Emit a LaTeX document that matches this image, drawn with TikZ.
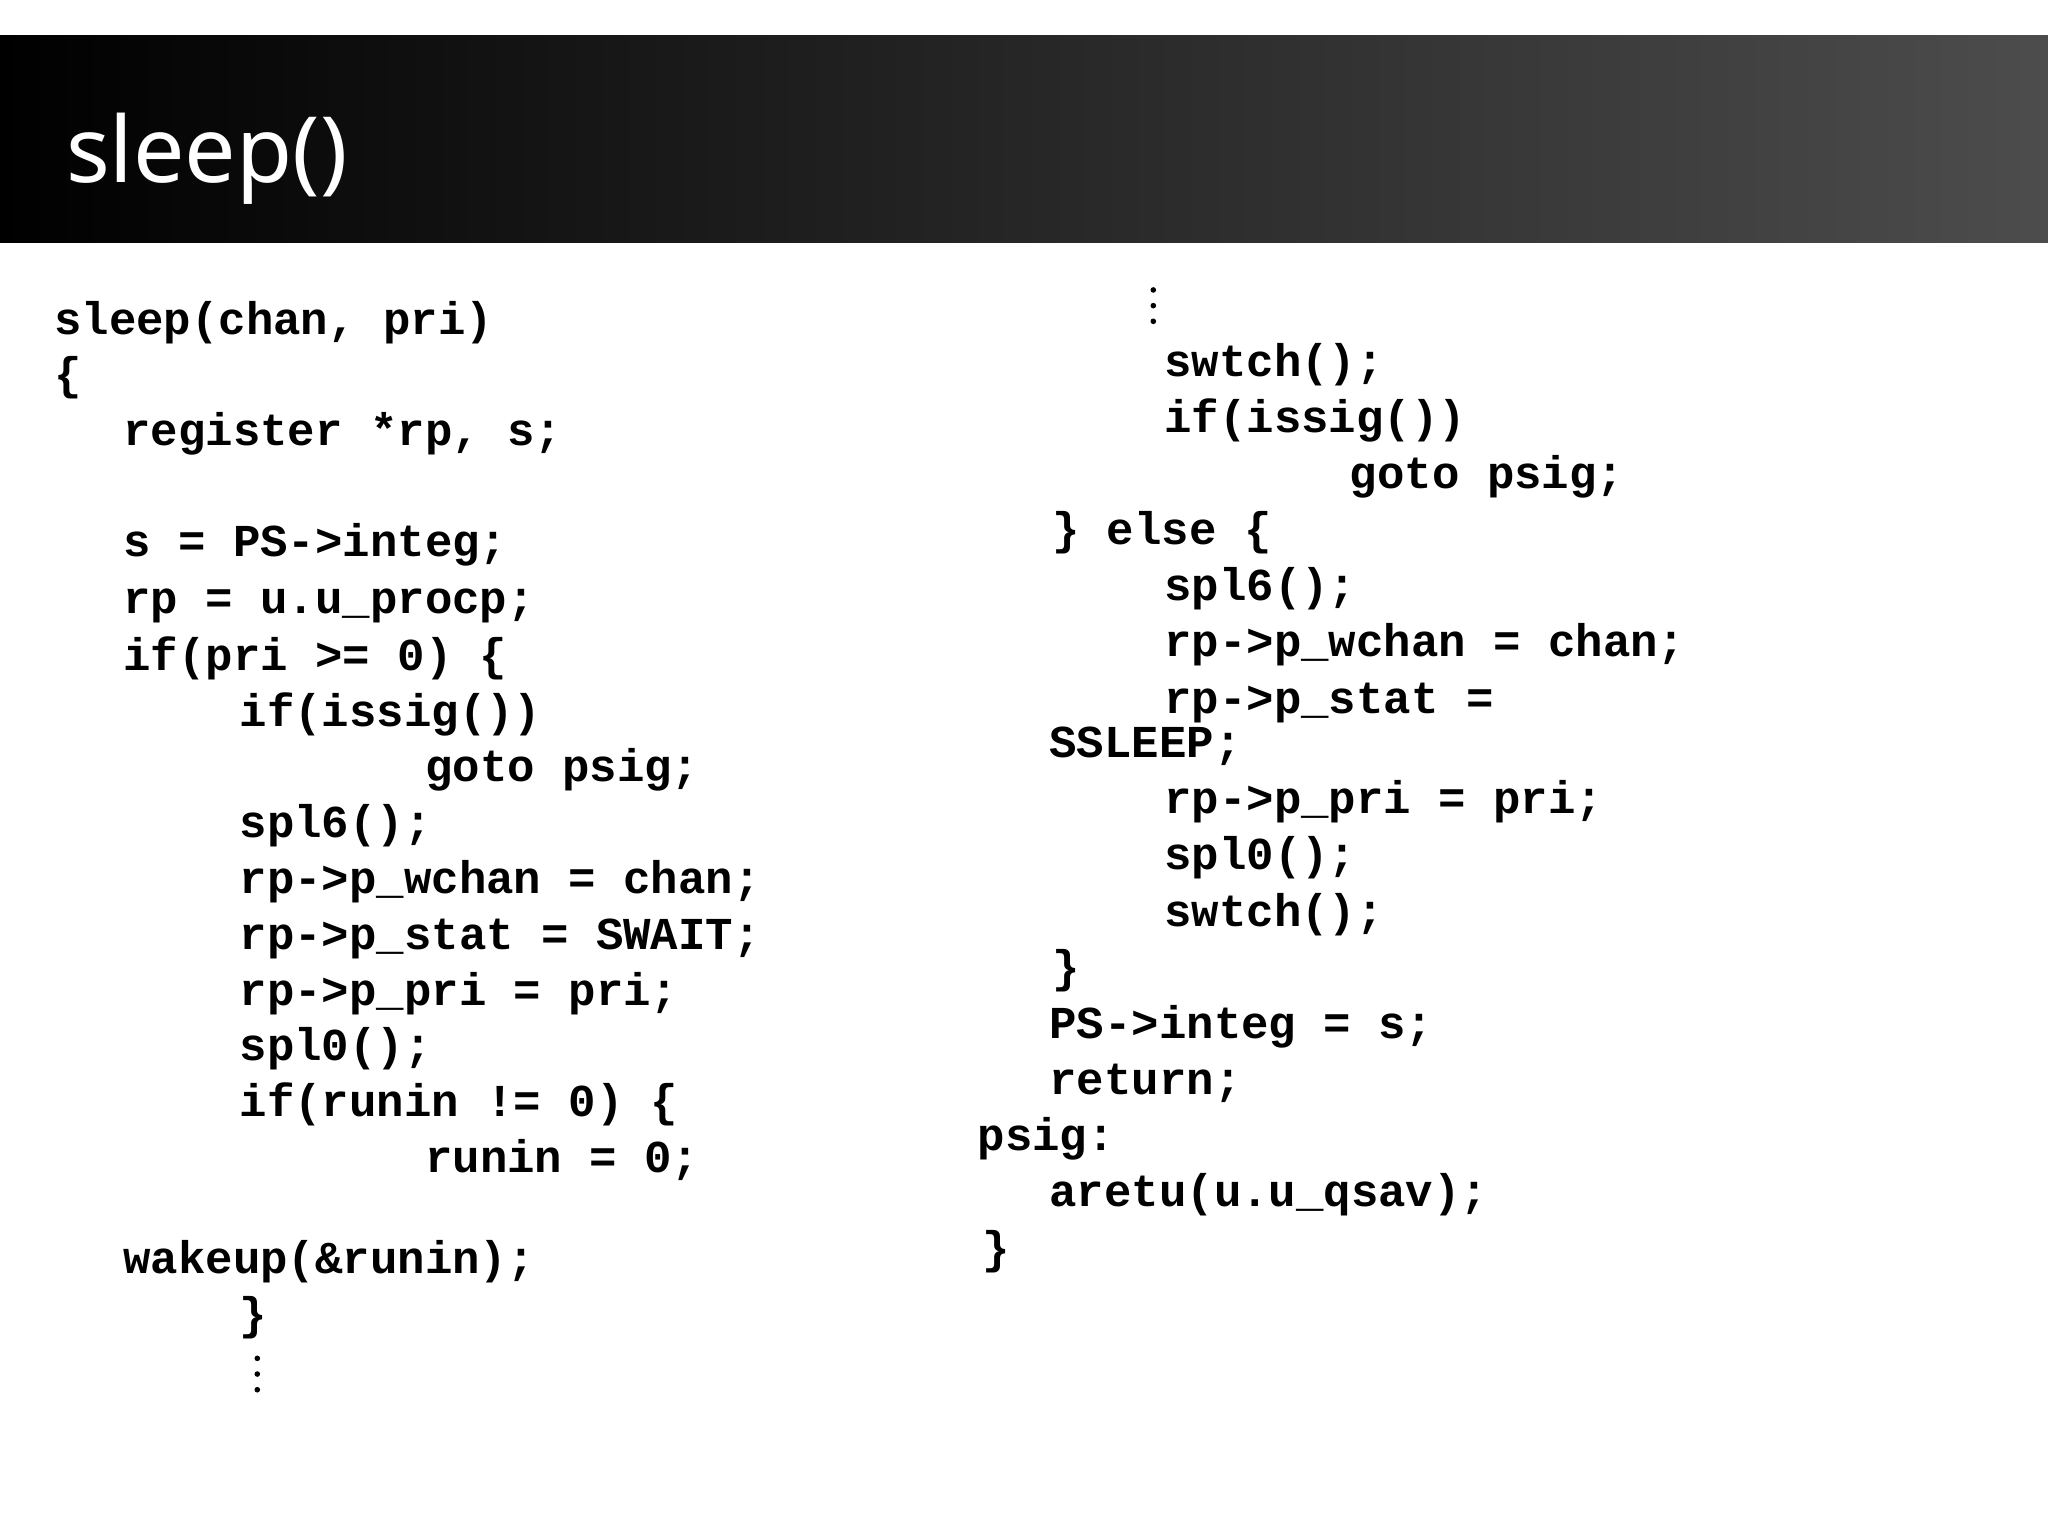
\documentclass[tikz,border=0pt]{standalone}
\usepackage{fontspec}
\setmainfont{Noto Sans}
\newfontfamily\codefont{Liberation Mono}
\begin{document}
\begin{tikzpicture}[x=0.013061cm,y=-0.013061cm,
  code/.style={anchor=base west,inner sep=0,font=\codefont\bfseries\fontsize{13pt}{16pt}\selectfont},
  vdot/.style={fill=black,circle,inner sep=0,minimum size=1.6pt}]
\useasboundingbox (0,0) rectangle (1568,1175);
\fill[white] (0,0) rectangle (1568,1175);
\shade[left color=black,right color=black!70] (0,27) rectangle (1568,186);
\node[anchor=base west,inner sep=0,text=white,font=\fontsize{26pt}{30pt}\selectfont] (title) at (50,140) {sleep()};
% left column
\node[code] (a1) at (41,256) {sleep(chan, pri)};
\node[code] (a2) at (41,298) {\{};
\node[code] (a3) at (94,341) {register *rp, s;};
\node[code] (a4) at (94,426) {s = PS->integ;};
\node[code] (a5) at (94,470) {rp = u.u\_procp;};
\node[code] (a6) at (94,513) {if(pri >= 0) \{};
\node[code] (a7) at (183,556) {if(issig())};
\node[code] (a8) at (325,598) {goto psig;};
\node[code] (a9) at (183,641) {spl6();};
\node[code] (a10) at (183,684) {rp->p\_wchan = chan;};
\node[code] (a11) at (183,727) {rp->p\_stat = SWAIT;};
\node[code] (a12) at (183,770) {rp->p\_pri = pri;};
\node[code] (a13) at (183,812) {spl0();};
\node[code] (a14) at (183,855) {if(runin != 0) \{};
\node[code] (a15) at (325,898) {runin = 0;};
\node[code] (a16) at (94,975) {wakeup(\&runin);};
\node[code] (a17) at (183,1018) {\}};
\node[vdot] (d1) at (197,1040) {};
\node[vdot] (d2) at (197,1052) {};
\node[vdot] (d3) at (197,1064) {};
% right column
\node[vdot] (e1) at (883,222) {};
\node[vdot] (e2) at (883,234) {};
\node[vdot] (e3) at (883,246) {};
\node[code] (b1) at (891,288) {swtch();};
\node[code] (b2) at (891,331) {if(issig())};
\node[code] (b3) at (1033,374) {goto psig;};
\node[code] (b4) at (805,417) {\} else \{};
\node[code] (b5) at (891,460) {spl6();};
\node[code] (b6) at (891,503) {rp->p\_wchan = chan;};
\node[code] (b7) at (891,546) {rp->p\_stat =};
\node[code] (b8) at (803,580) {SSLEEP;};
\node[code] (b9) at (891,623) {rp->p\_pri = pri;};
\node[code] (b10) at (891,666) {spl0();};
\node[code] (b11) at (891,709) {swtch();};
\node[code] (b12) at (805,752) {\}};
\node[code] (b13) at (803,795) {PS->integ = s;};
\node[code] (b14) at (803,838) {return;};
\node[code] (b15) at (748,881) {psig:};
\node[code] (b16) at (803,924) {aretu(u.u\_qsav);};
\node[code] (b17) at (752,967) {\}};
\end{tikzpicture}
\end{document}
